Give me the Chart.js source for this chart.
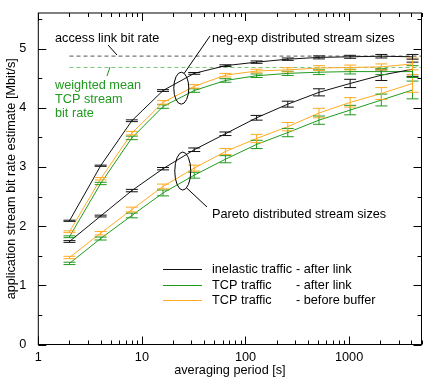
<!DOCTYPE html>
<html>
<head>
<meta charset="utf-8">
<script src="https://cdn.jsdelivr.net/npm/chart.js@4/dist/chart.umd.min.js"></script>
<style>
html,body{margin:0;padding:0;background:#fff;}
#wrap{width:423px;height:378px;}
</style>
</head>
<body>
<div id="wrap"><canvas id="c" width="423" height="378"></canvas></div>
<script>
// ---- data ----
const periods = [2, 4, 8, 16, 32, 64, 128, 256, 512, 1024, 2048, 4096];

const negExpInelastic = [2.09, 3.02, 3.78, 4.29, 4.58, 4.71, 4.77, 4.82, 4.85, 4.86, 4.87, 4.86];
const negExpTcpAfter  = [1.82, 2.72, 3.49, 4.02, 4.29, 4.46, 4.54, 4.58, 4.60, 4.61, 4.61, 4.61];
const negExpTcpBefore = [1.905, 2.80, 3.57, 4.09, 4.36, 4.55, 4.62, 4.64, 4.67, 4.68, 4.69, 4.74];
const paretoInelastic = [1.74, 2.17, 2.60, 2.97, 3.29, 3.56, 3.83, 4.06, 4.26, 4.41, 4.55, 4.65];
const paretoTcpAfter  = [1.37, 1.79, 2.18, 2.56, 2.86, 3.13, 3.38, 3.58, 3.79, 3.96, 4.13, 4.30];
const paretoTcpBefore = [1.47, 1.88, 2.28, 2.67, 2.98, 3.26, 3.48, 3.68, 3.91, 4.09, 4.24, 4.41];

const negExpInelasticErr = [0.01, 0.01, 0.015, 0.015, 0.015, 0.015, 0.02, 0.02, 0.025, 0.025, 0.03, 0.04];
const negExpTcpAfterErr  = [0.015, 0.02, 0.03, 0.03, 0.03, 0.03, 0.03, 0.035, 0.04, 0.04, 0.05, 0.1];
const negExpTcpBeforeErr = [0.015, 0.02, 0.03, 0.03, 0.03, 0.03, 0.03, 0.035, 0.04, 0.04, 0.05, 0.1];
const paretoInelasticErr = [0.015, 0.015, 0.02, 0.02, 0.03, 0.03, 0.04, 0.05, 0.06, 0.07, 0.09, 0.12];
const paretoTcpAfterErr  = [0.02, 0.025, 0.04, 0.05, 0.05, 0.06, 0.07, 0.07, 0.07, 0.08, 0.1, 0.15];
const paretoTcpBeforeErr = [0.02, 0.03, 0.04, 0.04, 0.05, 0.05, 0.07, 0.07, 0.08, 0.08, 0.1, 0.15];

const accessLinkRate = 4.87;
const weightedMeanTcpRate = 4.68;
const refLineX = [2, 5000];

const xTickValues = [1, 10, 100, 1000];
const yTickValues = [0, 1, 2, 3, 4, 5];

const legendLabels = [["inelastic traffic", "- after link"], ["TCP traffic", "- after link"], ["TCP traffic", "- before buffer"]];

// ---- styling ----
const BLACK = '#111111';
const GREEN = '#1f9a1f';
const ORANGE = '#ffaa22';
const FONT = '"Liberation Sans", Arial, Helvetica, sans-serif';
const FS = 12.7;

function pts(xs, ys) { return xs.map((x, i) => ({x: x, y: ys[i]})); }
function series(ys, errs, color) {
  return {data: pts(periods, ys), errs: errs, borderColor: color, backgroundColor: color,
          borderWidth: 1, pointRadius: 0, tension: 0, fill: false};
}

const datasets = [
  series(paretoTcpAfter, paretoTcpAfterErr, GREEN),
  series(paretoTcpBefore, paretoTcpBeforeErr, ORANGE),
  series(paretoInelastic, paretoInelasticErr, BLACK),
  series(negExpTcpAfter, negExpTcpAfterErr, GREEN),
  series(negExpTcpBefore, negExpTcpBeforeErr, ORANGE),
  series(negExpInelastic, negExpInelasticErr, BLACK),
  {data: pts(refLineX, [accessLinkRate, accessLinkRate]), borderColor: '#777777', borderWidth: 1.2,
   borderDash: [4, 3], pointRadius: 0},
  {data: pts(refLineX, [weightedMeanTcpRate, weightedMeanTcpRate]), borderColor: '#7cc47c', borderWidth: 1,
   borderDash: [4, 3], pointRadius: 0}
];

const errorBars = {
  id: 'errorBars',
  afterDatasetsDraw(chart) {
    const ctx = chart.ctx, xs = chart.scales.x, ys = chart.scales.y;
    ctx.save();
    chart.data.datasets.forEach(ds => {
      if (!ds.errs) return;
      ctx.strokeStyle = ds.borderColor;
      ctx.lineWidth = 1;
      ds.data.forEach((p, i) => {
        const e = ds.errs[i];
        const px = xs.getPixelForValue(p.x);
        const y1 = ys.getPixelForValue(p.y - e), y2 = ys.getPixelForValue(p.y + e);
        ctx.beginPath();
        ctx.moveTo(px, y1); ctx.lineTo(px, y2);
        ctx.moveTo(px - 6, y1); ctx.lineTo(px + 6, y1);
        ctx.moveTo(px - 6, y2); ctx.lineTo(px + 6, y2);
        ctx.stroke();
      });
    });
    ctx.restore();
  }
};

const frameAndTicks = {
  id: 'frameAndTicks',
  afterDraw(chart) {
    const ctx = chart.ctx, a = chart.chartArea, xs = chart.scales.x, ys = chart.scales.y;
    ctx.save();
    ctx.strokeStyle = '#000';
    ctx.lineWidth = 1;
    ctx.strokeRect(a.left, a.top, a.right - a.left, a.bottom - a.top);
    ctx.beginPath();
    for (let d = 1; d <= 1000; d *= 10) {
      for (let m = 1; m <= 9; m++) {
        const v = d * m;
        if (v > xs.max) break;
        const px = Math.round(xs.getPixelForValue(v)) + 0.5;
        const len = m === 1 ? 8 : 4;
        ctx.moveTo(px, a.bottom); ctx.lineTo(px, a.bottom - len);
        ctx.moveTo(px, a.top); ctx.lineTo(px, a.top + len);
      }
    }
    for (let v = 0; v <= 5.5; v += 0.5) {
      const py = Math.round(ys.getPixelForValue(v)) + 0.5;
      const len = Number.isInteger(v) ? 8 : 4;
      ctx.moveTo(a.left, py); ctx.lineTo(a.left + len, py);
      ctx.moveTo(a.right, py); ctx.lineTo(a.right - len, py);
    }
    ctx.stroke();
    ctx.restore();
  }
};

const annotations = {
  id: 'annotations',
  afterDraw(chart) {
    const ctx = chart.ctx, xs = chart.scales.x, ys = chart.scales.y;
    ctx.save();
    ctx.font = FS + 'px ' + FONT;
    ctx.textBaseline = 'middle';
    ctx.textAlign = 'left';
    ctx.lineWidth = 1;

    ctx.strokeStyle = '#000';
    const e1x = xs.getPixelForValue(24), e1y = ys.getPixelForValue(4.33);
    ctx.beginPath(); ctx.ellipse(e1x, e1y, 7.5, 16, 0, 0, Math.PI * 2); ctx.stroke();
    const e2x = xs.getPixelForValue(24.8), e2y = ys.getPixelForValue(2.93);
    ctx.beginPath(); ctx.ellipse(e2x, e2y, 8, 19, 0, 0, Math.PI * 2); ctx.stroke();

    ctx.beginPath();
    ctx.moveTo(e1x + 3, e1y - 15); ctx.lineTo(210, 36);
    ctx.moveTo(e2x + 4, e2y + 17); ctx.lineTo(207, 207);
    ctx.moveTo(108, 45); ctx.lineTo(117, 55);
    ctx.stroke();
    ctx.strokeStyle = GREEN;
    ctx.beginPath(); ctx.moveTo(110, 67); ctx.lineTo(107, 76); ctx.stroke();

    ctx.fillStyle = '#000';
    ctx.fillText('access link bit rate', 55, 38);
    ctx.fillText('neg-exp distributed stream sizes', 212, 38);
    ctx.fillText('Pareto distributed stream sizes', 212, 214);
    ctx.fillStyle = GREEN;
    ctx.fillText('weighted mean', 55, 85);
    ctx.fillText('TCP stream', 55, 99);
    ctx.fillText('bit rate', 55, 113);

    const legColors = [BLACK, GREEN, ORANGE];
    const legY = [269, 285, 300];
    legendLabels.forEach((lab, i) => {
      ctx.strokeStyle = legColors[i];
      ctx.beginPath(); ctx.moveTo(163, legY[i] + 0.5); ctx.lineTo(202, legY[i] + 0.5); ctx.stroke();
      ctx.fillStyle = '#000';
      ctx.fillText(lab[0], 212, legY[i]);
      ctx.fillText(lab[1], 296, legY[i]);
    });
    ctx.restore();
  }
};

new Chart(document.getElementById('c'), {
  type: 'line',
  data: {datasets: datasets},
  options: {
    responsive: false,
    animation: false,
    devicePixelRatio: 1,
    layout: {padding: {top: 13, right: 1.5, left: 0, bottom: 0}},
    plugins: {legend: {display: false}, tooltip: {enabled: false}},
    scales: {
      x: {
        type: 'logarithmic', min: 1, max: 5000,
        grid: {display: false, drawTicks: false, tickLength: 0},
        border: {display: false},
        afterBuildTicks: s => { s.ticks = xTickValues.map(v => ({value: v})); },
        afterFit: s => { s.height = 33.5; },
        ticks: {autoSkip: false, maxRotation: 0, padding: 5, color: '#000',
                font: {family: FONT, size: FS}, callback: v => String(v)},
        title: {display: true, text: 'averaging period [s]', color: '#000',
                font: {family: FONT, size: FS}, padding: {top: 0, bottom: 0}}
      },
      y: {
        min: 0, max: 5.6,
        grid: {display: false},
        border: {display: false},
        afterBuildTicks: s => { s.ticks = yTickValues.map(v => ({value: v})); },
        afterFit: s => { s.width = 38.3; },
        ticks: {padding: 4, color: '#000', font: {family: FONT, size: FS}, callback: v => String(v)},
        title: {display: true, text: 'application stream bit rate estimate [Mbit/s]', color: '#000',
                font: {family: FONT, size: FS}, padding: {top: 4, bottom: 0}}
      }
    }
  },
  plugins: [errorBars, frameAndTicks, annotations]
});
</script>
</body>
</html>
